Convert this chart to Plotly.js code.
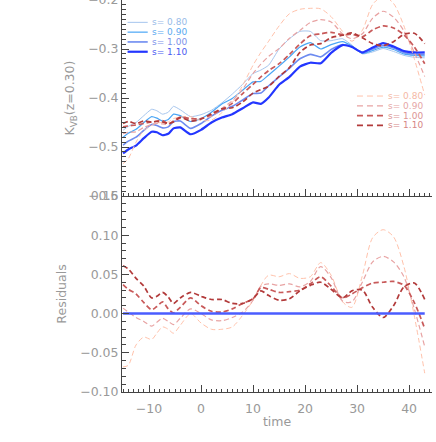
<!DOCTYPE html>
<html>
<head>
<meta charset="utf-8">
<script src="https://cdn.plot.ly/plotly-3.0.1.min.js"></script>
<style>html,body{margin:0;padding:0;background:#fff;}#chart{width:436px;height:442px;}</style>
</head>
<body>
<div id="chart"></div>
<script>
// shared time grid
const xGrid = [-15, -14, -12.5, -11, -9.5, -8.5, -7.4, -6.3, -5.3, -4, -2, 0, 2, 4, 6, 8, 10, 11.5, 13, 15, 17, 19, 21, 23, 25, 27.2, 29, 31, 33, 35, 37, 39, 41, 43];

const sLabels = ['s= 0.80', 's= 0.90', 's= 1.00', 's= 1.10'];

// reference (blue, solid) K_VB curves
const blue080 = [-0.466, -0.458, -0.450, -0.436, -0.423, -0.426, -0.433, -0.429, -0.417, -0.424, -0.438, -0.434, -0.425, -0.410, -0.392, -0.372, -0.350, -0.343, -0.333, -0.300, -0.279, -0.264, -0.264, -0.283, -0.283, -0.279, -0.292, -0.310, -0.306, -0.299, -0.305, -0.313, -0.317, -0.318];
const blue090 = [-0.480, -0.472, -0.464, -0.450, -0.438, -0.441, -0.447, -0.444, -0.433, -0.436, -0.448, -0.442, -0.429, -0.412, -0.401, -0.384, -0.367, -0.366, -0.353, -0.335, -0.316, -0.296, -0.287, -0.300, -0.291, -0.285, -0.294, -0.309, -0.303, -0.296, -0.301, -0.310, -0.313, -0.314];
const blue100 = [-0.496, -0.488, -0.480, -0.466, -0.454, -0.456, -0.461, -0.459, -0.448, -0.447, -0.462, -0.452, -0.437, -0.425, -0.417, -0.404, -0.391, -0.390, -0.375, -0.357, -0.339, -0.320, -0.311, -0.316, -0.301, -0.291, -0.295, -0.308, -0.300, -0.293, -0.298, -0.307, -0.310, -0.311];
const blue110 = [-0.513, -0.505, -0.497, -0.482, -0.469, -0.470, -0.476, -0.473, -0.462, -0.460, -0.474, -0.465, -0.450, -0.440, -0.433, -0.421, -0.409, -0.412, -0.399, -0.373, -0.357, -0.336, -0.328, -0.329, -0.308, -0.292, -0.296, -0.307, -0.297, -0.288, -0.295, -0.304, -0.307, -0.307];

// model (red, dashed) K_VB curves
const red080 = [-0.534, -0.524, -0.490, -0.466, -0.456, -0.451, -0.450, -0.449, -0.442, -0.439, -0.438, -0.446, -0.445, -0.430, -0.409, -0.374, -0.333, -0.307, -0.284, -0.253, -0.228, -0.219, -0.217, -0.218, -0.234, -0.264, -0.284, -0.262, -0.209, -0.192, -0.207, -0.253, -0.320, -0.394];
const red090 = [-0.473, -0.470, -0.469, -0.460, -0.454, -0.452, -0.453, -0.454, -0.447, -0.442, -0.442, -0.442, -0.437, -0.421, -0.406, -0.382, -0.350, -0.331, -0.315, -0.299, -0.278, -0.262, -0.246, -0.240, -0.245, -0.269, -0.279, -0.269, -0.237, -0.223, -0.235, -0.263, -0.307, -0.356];
const red100 = [-0.459, -0.457, -0.455, -0.452, -0.449, -0.447, -0.446, -0.453, -0.447, -0.439, -0.442, -0.442, -0.434, -0.423, -0.411, -0.391, -0.372, -0.357, -0.344, -0.330, -0.311, -0.290, -0.273, -0.269, -0.266, -0.271, -0.270, -0.275, -0.261, -0.253, -0.257, -0.271, -0.296, -0.330];
const red110 = [-0.452, -0.448, -0.452, -0.447, -0.449, -0.448, -0.449, -0.452, -0.449, -0.440, -0.447, -0.443, -0.432, -0.422, -0.420, -0.408, -0.390, -0.383, -0.376, -0.356, -0.338, -0.307, -0.292, -0.289, -0.277, -0.272, -0.267, -0.277, -0.289, -0.293, -0.285, -0.270, -0.268, -0.289];

// residuals (red - blue)
const resid080 = [-0.068, -0.066, -0.040, -0.030, -0.033, -0.025, -0.017, -0.020, -0.025, -0.015, 0.000, -0.012, -0.020, -0.020, -0.017, -0.002, 0.017, 0.036, 0.049, 0.047, 0.051, 0.045, 0.047, 0.065, 0.049, 0.015, 0.008, 0.048, 0.097, 0.107, 0.098, 0.060, -0.003, -0.076];
const resid090 = [0.007, 0.002, -0.005, -0.010, -0.016, -0.011, -0.006, -0.010, -0.014, -0.006, 0.006, 0.000, -0.008, -0.009, -0.005, 0.002, 0.017, 0.035, 0.038, 0.036, 0.038, 0.034, 0.041, 0.060, 0.046, 0.016, 0.015, 0.040, 0.066, 0.073, 0.066, 0.047, 0.006, -0.042];
const resid100 = [0.037, 0.031, 0.025, 0.014, 0.005, 0.009, 0.015, 0.006, 0.001, 0.008, 0.020, 0.010, 0.003, 0.002, 0.006, 0.013, 0.019, 0.033, 0.031, 0.027, 0.028, 0.030, 0.038, 0.047, 0.035, 0.020, 0.025, 0.033, 0.039, 0.040, 0.041, 0.036, 0.014, -0.019];
const resid110 = [0.061, 0.057, 0.045, 0.035, 0.020, 0.022, 0.027, 0.021, 0.013, 0.020, 0.027, 0.022, 0.018, 0.018, 0.013, 0.013, 0.019, 0.029, 0.023, 0.017, 0.019, 0.029, 0.036, 0.040, 0.031, 0.020, 0.029, 0.030, 0.008, -0.005, 0.010, 0.034, 0.039, 0.018];
const residRef = [0, 0, 0, 0, 0, 0, 0, 0, 0, 0, 0, 0, 0, 0, 0, 0, 0, 0, 0, 0, 0, 0, 0, 0, 0, 0, 0, 0, 0, 0, 0, 0, 0, 0];

// tick labels
const topTickVals = [-0.6, -0.5, -0.4, -0.3, -0.2];
const topTickText = ['\u22120.6', '\u22120.5', '\u22120.4', '\u22120.3', '\u22120.2'];
const botTickVals = [-0.10, -0.05, 0.00, 0.05, 0.10, 0.15];
const botTickText = ['\u22120.10', '\u22120.05', '0.00', '0.05', '0.10', '0.15'];
const xTickVals = [-10, 0, 10, 20, 30, 40];
const xTickText = ['\u221210', '0', '10', '20', '30', '40'];

// styles
const blueColors = ['#a6c6ee', '#4aa6f6', '#6d8bf0', '#2336ff'];
const blueText = ['#98bbe8', '#5aaaf0', '#7d92ea', '#4a5af2'];
const blueWidths = [1, 1.2, 1.6, 2.2];
const redColors = ['#ffc2ab', '#e8a3a3', '#c85a5a', '#b23a3a'];
const redText = ['#f5b8a5', '#e6a6a6', '#dc9494', '#d68686'];
const redWidths = [1, 1.2, 1.7, 1.7];

const blueSeries = [blue080, blue090, blue100, blue110];
const redSeries = [red080, red090, red100, red110];
const residSeries = [resid080, resid090, resid100, resid110];

const traces = [];
blueSeries.forEach((ys, i) => traces.push({
  x: xGrid, y: ys, xaxis: 'x2', yaxis: 'y2', mode: 'lines', type: 'scatter',
  line: {color: blueColors[i], width: blueWidths[i], shape: 'spline', smoothing: 0.5},
  name: sLabels[i], showlegend: false, hoverinfo: 'skip'
}));
redSeries.forEach((ys, i) => traces.push({
  x: xGrid, y: ys, xaxis: 'x2', yaxis: 'y2', mode: 'lines', type: 'scatter',
  line: {color: redColors[i], width: redWidths[i], dash: '5px,3px', shape: 'spline', smoothing: 0.8},
  name: sLabels[i], showlegend: false, hoverinfo: 'skip'
}));
residSeries.forEach((ys, i) => traces.push({
  x: xGrid, y: ys, xaxis: 'x', yaxis: 'y', mode: 'lines', type: 'scatter',
  line: {color: redColors[i], width: redWidths[i], dash: '5px,3px', shape: 'spline', smoothing: 0.8},
  name: sLabels[i], showlegend: false, hoverinfo: 'skip'
}));
traces.push({
  x: xGrid, y: residRef, xaxis: 'x', yaxis: 'y', mode: 'lines', type: 'scatter',
  line: {color: '#4a5cff', width: 2.5}, showlegend: false, hoverinfo: 'skip'
});

const txtFont = {family: 'DejaVu Sans, sans-serif', size: 12.5, color: '#999999'};
const axCol = '#444444';
const X_RANGE = [-15.2, 44.4];
const TOP_RANGE = [-0.6, -0.2];
const BOT_RANGE = [-0.10, 0.15];

function axisBase(extra) {
  return Object.assign({
    ticks: 'inside', ticklen: 7, tickwidth: 1, tickcolor: axCol,
    showline: true, linecolor: axCol, linewidth: 1, mirror: false,
    showgrid: false, zeroline: false, tickfont: txtFont
  }, extra);
}
const xMinor = {dtick: 1, tick0: 0, ticklen: 3.5, tickcolor: axCol, ticks: 'inside', showgrid: false};
const yMinor = {dtick: 0.01, tick0: 0, ticklen: 3.5, tickcolor: axCol, ticks: 'inside', showgrid: false};

// legend (layout decorations)
const shapes = [];
const annotations = [];
sLabels.forEach((lab, i) => {
  const yb = 0.943 - 0.025 * i;
  shapes.push({type: 'line', xref: 'paper', yref: 'paper', x0: 0.018, x1: 0.083, y0: yb, y1: yb,
    line: {color: blueColors[i], width: blueWidths[i]}});
  annotations.push({xref: 'paper', yref: 'paper', x: 0.090, y: yb, xanchor: 'left', yanchor: 'middle',
    text: lab, showarrow: false, font: {family: 'DejaVu Sans, sans-serif', size: 9, color: blueText[i]}});
  const yr = 0.755 - 0.025 * i;
  shapes.push({type: 'line', xref: 'paper', yref: 'paper', x0: 0.758, x1: 0.842, y0: yr, y1: yr,
    line: {color: redColors[i], width: redWidths[i], dash: '6px,4px'}});
  annotations.push({xref: 'paper', yref: 'paper', x: 0.852, y: yr, xanchor: 'left', yanchor: 'middle',
    text: lab, showarrow: false, font: {family: 'DejaVu Sans, sans-serif', size: 9, color: redText[i]}});
});

const layout = {
  width: 436, height: 442,
  margin: {l: 122, r: 4, t: 0, b: 50},
  paper_bgcolor: '#ffffff', plot_bgcolor: '#ffffff',
  showlegend: false,
  // bottom panel
  xaxis: axisBase({
    domain: [0, 1], anchor: 'y', range: X_RANGE,
    tickvals: xTickVals, ticktext: xTickText, ticklabelstandoff: 5,
    minor: xMinor,
    title: {text: 'time', font: txtFont, standoff: 2}
  }),
  yaxis: axisBase({
    domain: [0, 0.5], anchor: 'x', range: BOT_RANGE,
    tickvals: botTickVals, ticktext: botTickText, minor: yMinor,
    title: {text: 'Residuals', font: txtFont, standoff: 10}
  }),
  // top panel
  xaxis2: axisBase({
    domain: [0, 1], anchor: 'y2', range: X_RANGE,
    tickvals: xTickVals, showticklabels: false, minor: xMinor
  }),
  yaxis2: axisBase({
    domain: [0.5, 1], anchor: 'x2', range: TOP_RANGE,
    tickvals: topTickVals, ticktext: topTickText, minor: yMinor,
    ticklabeloverflow: 'allow',
    title: {text: 'K<sub>VB</sub>(z=0.30)', font: txtFont, standoff: 10}
  }),
  // mirrored frame sides (ticks only)
  xaxis3: axisBase({overlaying: 'x', anchor: 'y', side: 'top', range: X_RANGE,
    tickvals: xTickVals, showticklabels: false, minor: xMinor}),
  xaxis4: axisBase({overlaying: 'x2', anchor: 'y2', side: 'top', range: X_RANGE,
    tickvals: xTickVals, showticklabels: false, minor: xMinor}),
  yaxis3: axisBase({overlaying: 'y', anchor: 'x', side: 'right', range: BOT_RANGE,
    tickvals: botTickVals, showticklabels: false, minor: yMinor}),
  yaxis4: axisBase({overlaying: 'y2', anchor: 'x2', side: 'right', range: TOP_RANGE,
    tickvals: topTickVals, showticklabels: false, minor: yMinor}),
  shapes: shapes,
  annotations: annotations
};

Plotly.newPlot('chart', traces, layout, {staticPlot: true, displayModeBar: false});
</script>
</body>
</html>
